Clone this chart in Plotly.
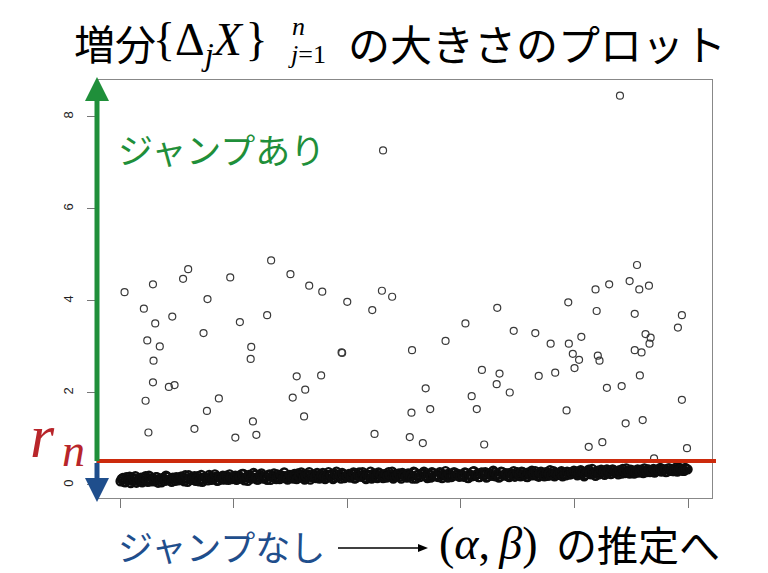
import plotly.graph_objects as go

# ---------------- data ----------------
# bulk of small increments (no jump): two interleaved sets of indices
band_index_a = list(range(1, 1001, 4))
band_size_a = [
    0.08,0.15,0.06,0.12,0.18,0.09,0.14,0.05,0.11,0.16,0.10,0.19,0.07,0.13,0.15,0.08,0.17,0.12,0.06,0.14,0.20,0.10,0.13,0.16,0.09,
    0.15,0.11,0.18,0.08,0.14,0.21,0.12,0.16,0.09,0.19,0.13,0.07,0.17,0.15,0.22,0.11,0.14,0.18,0.10,0.16,0.20,0.12,0.15,0.23,0.13,
    0.17,0.11,0.20,0.14,0.24,0.16,0.09,0.19,0.15,0.22,0.12,0.18,0.25,0.14,0.17,0.21,0.11,0.19,0.16,0.23,0.13,0.20,0.27,0.15,0.18,
    0.21,0.14,0.19,0.25,0.16,0.22,0.12,0.20,0.28,0.17,0.23,0.15,0.21,0.18,0.26,0.13,0.22,0.19,0.24,0.16,0.29,0.20,0.14,0.23,0.18,
    0.21,0.16,0.24,0.14,0.20,0.27,0.18,0.23,0.13,0.21,0.29,0.17,0.22,0.15,0.25,0.19,0.23,0.16,0.28,0.20,0.14,0.24,0.21,0.18,0.26,
    0.21,0.16,0.24,0.19,0.29,0.14,0.22,0.18,0.26,0.20,0.15,0.23,0.28,0.19,0.22,0.17,0.25,0.21,0.30,0.16,0.23,0.19,0.27,0.22,0.18,
    0.23,0.18,0.26,0.15,0.22,0.29,0.20,0.24,0.17,0.27,0.21,0.16,0.25,0.22,0.31,0.19,0.23,0.18,0.28,0.21,0.25,0.17,0.24,0.30,0.22,
    0.25,0.19,0.28,0.22,0.17,0.26,0.31,0.21,0.24,0.18,0.29,0.23,0.27,0.20,0.32,0.24,0.19,0.26,0.22,0.30,0.25,0.21,0.28,0.23,0.27,
    0.26,0.21,0.30,0.24,0.19,0.28,0.33,0.23,0.27,0.20,0.31,0.26,0.29,0.22,0.34,0.28,0.24,0.32,0.27,0.23,0.30,0.35,0.26,0.29,0.25,
    0.28,0.25,0.31,0.27,0.33,0.26,0.30,0.34,0.28,0.32,0.27,0.31,0.35,0.29,0.33,0.28,0.36,0.31,0.30,0.34,0.29,0.37,0.32,0.31,0.35,
]
band_index_b = list(range(3, 1001, 4))
band_size_b = [
    0.13,0.07,0.17,0.10,0.04,0.14,0.19,0.09,0.12,0.06,0.16,0.11,0.20,0.08,0.13,0.17,0.05,0.12,0.15,0.09,0.18,0.11,0.07,0.14,0.17,
    0.10,0.18,0.13,0.21,0.07,0.15,0.11,0.19,0.14,0.08,0.22,0.12,0.16,0.10,0.18,0.13,0.23,0.09,0.17,0.12,0.15,0.20,0.11,0.17,0.14,
    0.20,0.13,0.17,0.24,0.10,0.18,0.22,0.14,0.26,0.16,0.12,0.21,0.15,0.19,0.11,0.23,0.17,0.25,0.13,0.18,0.21,0.15,0.19,0.12,0.22,
    0.17,0.24,0.13,0.20,0.27,0.15,0.19,0.23,0.12,0.21,0.18,0.26,0.14,0.22,0.19,0.16,0.28,0.20,0.13,0.24,0.17,0.21,0.26,0.15,0.20,
    0.24,0.18,0.27,0.15,0.22,0.19,0.28,0.16,0.23,0.20,0.14,0.25,0.18,0.27,0.21,0.15,0.24,0.19,0.22,0.29,0.17,0.20,0.25,0.14,0.22,
    0.18,0.25,0.20,0.14,0.27,0.22,0.17,0.24,0.29,0.19,0.23,0.16,0.26,0.21,0.18,0.28,0.15,0.23,0.20,0.25,0.17,0.27,0.21,0.24,0.19,
    0.20,0.27,0.16,0.23,0.19,0.30,0.22,0.17,0.26,0.21,0.28,0.18,0.24,0.20,0.27,0.23,0.16,0.29,0.21,0.25,0.19,0.26,0.22,0.18,0.28,
    0.22,0.29,0.24,0.18,0.27,0.21,0.25,0.30,0.20,0.26,0.23,0.19,0.28,0.24,0.21,0.30,0.26,0.22,0.27,0.19,0.25,0.29,0.23,0.26,0.31,
    0.29,0.24,0.32,0.27,0.22,0.30,0.26,0.35,0.25,0.29,0.23,0.33,0.28,0.26,0.31,0.24,0.34,0.29,0.27,0.32,0.25,0.30,0.36,0.28,0.33,
    0.31,0.27,0.34,0.29,0.32,0.36,0.28,0.33,0.30,0.35,0.29,0.32,0.37,0.31,0.34,0.29,0.36,0.33,0.30,0.38,0.32,0.35,0.31,0.37,0.34,
]

# increments with jumps
jump_index = [
    8, 58, 42, 62, 92, 111, 120, 154, 194, 211, 147, 48, 70, 59, 231, 230, 58, 86, 96, 45, 174, 153, 50, 131, 203, 234, 240,
    266, 300, 333, 356, 400, 259, 461, 479, 444, 390, 391, 514, 311, 354, 326, 304, 324, 448, 513, 510,
    789, 664, 608, 573, 693, 731, 758, 790, 637, 668, 663, 737, 766, 538, 619, 686, 546, 628, 786, 533, 641,
    910, 837, 861, 897, 914, 931, 839, 906, 989, 982, 812, 797, 808, 800, 841, 844, 925, 934, 932, 906, 918, 915,
    857, 883, 989, 890, 920, 825, 849, 998, 940,
    463, 880,
]
jump_size = [
    4.19, 4.36, 3.83, 3.51, 3.66, 4.48, 4.69, 4.04, 4.51, 3.54, 3.30, 3.14, 3.01, 2.70, 3.00, 2.74, 2.23, 2.13, 2.17, 1.83, 1.88, 1.61, 1.14, 1.22, 1.03, 1.38, 1.09,
    4.88, 4.58, 4.33, 4.20, 3.98, 3.69, 4.22, 4.09, 3.80, 2.88, 2.87, 2.93, 2.36, 2.38, 2.07, 1.90, 1.49, 1.11, 1.57, 1.04,
    3.97, 3.85, 3.51, 3.13, 3.35, 3.30, 3.07, 3.07, 2.50, 2.42, 2.19, 2.37, 2.44, 2.10, 1.93, 2.01, 1.65, 1.65, 1.62, 0.91, 0.88,
    4.78, 4.25, 4.36, 4.43, 4.25, 4.33, 3.78, 3.72, 3.69, 3.42, 3.22, 2.85, 2.72, 2.54, 2.81, 2.70, 3.28, 3.20, 3.07, 2.93, 2.88, 2.38,
    2.11, 2.15, 1.85, 1.34, 1.41, 0.83, 0.93, 0.80, 0.58,
    7.27, 8.46,
]

threshold_rn = 0.52
x_ticks = [0, 200, 400, 600, 800, 1000]
y_ticks = [0, 2, 4, 6, 8]
y_tick_labels = ["0", "2", "4", "6", "8"]

# ---------------- layout helpers ----------------
W, H = 768, 573
L, R, T, B = 97, 712, 80, 498


def px(x):
    return (x - L) / (R - L)


def py(y):
    return (B - y) / (B - T)


JP = "Noto Sans CJK JP"
SERIF = "Liberation Serif"
MARK = "#3a3a3a"
BAND = "#0d0d0d"
GREEN = "#1f8f3a"
BLUE = "#1f4e8c"
RED = "#cc2a0c"
RTEXT = "#b8252a"

fig = go.Figure()
for bx, by in ((band_index_a, band_size_a), (band_index_b, band_size_b)):
    fig.add_trace(go.Scatter(
        x=bx, y=by, mode="markers",
        marker=dict(symbol="circle-open", size=8, color=BAND, line=dict(width=2.4, color=BAND)),
        hoverinfo="skip", showlegend=False,
    ))
fig.add_trace(go.Scatter(
    x=jump_index, y=jump_size, mode="markers",
    marker=dict(symbol="circle-open", size=7, color=MARK, line=dict(width=1.2, color=MARK)),
    showlegend=False,
))

shapes = []
# threshold r_n
shapes.append(dict(type="line", xref="paper", yref="y", x0=0, x1=px(716), y0=threshold_rn, y1=threshold_rn,
                   line=dict(color=RED, width=4), layer="above"))
# green arrow (up)
shapes.append(dict(type="line", xref="paper", yref="paper", x0=px(97), x1=px(97), y0=py(461), y1=py(98),
                   line=dict(color=GREEN, width=5), layer="above"))
shapes.append(dict(type="path", xref="paper", yref="paper",
                   path=f"M {px(85)},{py(101)} L {px(97)},{py(77)} L {px(109)},{py(101)} Z",
                   fillcolor=GREEN, line=dict(color=GREEN, width=0), layer="above"))
# blue arrow (down)
shapes.append(dict(type="line", xref="paper", yref="paper", x0=px(97), x1=px(97), y0=py(463), y1=py(480),
                   line=dict(color=BLUE, width=5), layer="above"))
shapes.append(dict(type="path", xref="paper", yref="paper",
                   path=f"M {px(85)},{py(478)} L {px(97)},{py(502)} L {px(109)},{py(478)} Z",
                   fillcolor=BLUE, line=dict(color=BLUE, width=0), layer="above"))
# bottom long arrow
shapes.append(dict(type="line", xref="paper", yref="paper", x0=px(338), x1=px(420), y0=py(548), y1=py(548),
                   line=dict(color="black", width=1.5), layer="above"))
shapes.append(dict(type="path", xref="paper", yref="paper",
                   path=f"M {px(418)},{py(544)} L {px(428)},{py(548)} L {px(418)},{py(552)} Z",
                   fillcolor="black", line=dict(color="black", width=0), layer="above"))

ann = []


def text(x, y, s, size, family, color="black", xanchor="left"):
    ann.append(dict(xref="paper", yref="paper", x=px(x), y=py(y), text=s, showarrow=False,
                    xanchor=xanchor, yanchor="middle", font=dict(size=size, family=family, color=color)))


# title
text(72, 42, "増分", 41, JP)
text(151, 43, "{Δ<sub><i>j</i></sub><i>X</i>&#8202;}", 46, SERIF)
text(290, 26, "<i>n</i>", 26, SERIF)
text(286, 54, "<i>j</i>=1", 26, SERIF)
text(346, 42, "の大きさのプロット", 42, JP)

# side labels
text(116, 148, "ジャンプあり", 35, JP, GREEN)
text(28, 436, "<i>r</i>", 62, SERIF, RTEXT)
text(60, 450, "<i>n</i>", 46, SERIF, RTEXT)

# bottom text
text(116, 545, "ジャンプなし", 35, JP, BLUE)
text(437, 543, "(<i>α</i>,&#8201;<i>β</i>)", 46, SERIF)
text(554, 543, "の推定へ", 41, JP)

fig.update_layout(
    width=W, height=H, autosize=False,
    margin=dict(l=L, r=W - R, t=T, b=H - B, pad=0),
    paper_bgcolor="white", plot_bgcolor="white",
    shapes=shapes, annotations=ann,
    xaxis=dict(range=[-40.5, 1042], tickvals=x_ticks, showticklabels=False, ticks="outside",
               ticklen=9, tickcolor="#777777", tickwidth=1, showgrid=False, zeroline=False,
               showline=True, linecolor="#888888", linewidth=1, mirror=True),
    yaxis=dict(range=[-0.283, 8.80], tickvals=y_ticks, ticktext=y_tick_labels, ticks="outside",
               ticklen=9, tickcolor="#777777", tickwidth=1, tickangle=-90, ticklabelstandoff=9,
               tickfont=dict(size=13, family="Liberation Sans", color="#222222"),
               showgrid=False, zeroline=False,
               showline=True, linecolor="#888888", linewidth=1, mirror=True),
)

fig.write_html("out.html")
